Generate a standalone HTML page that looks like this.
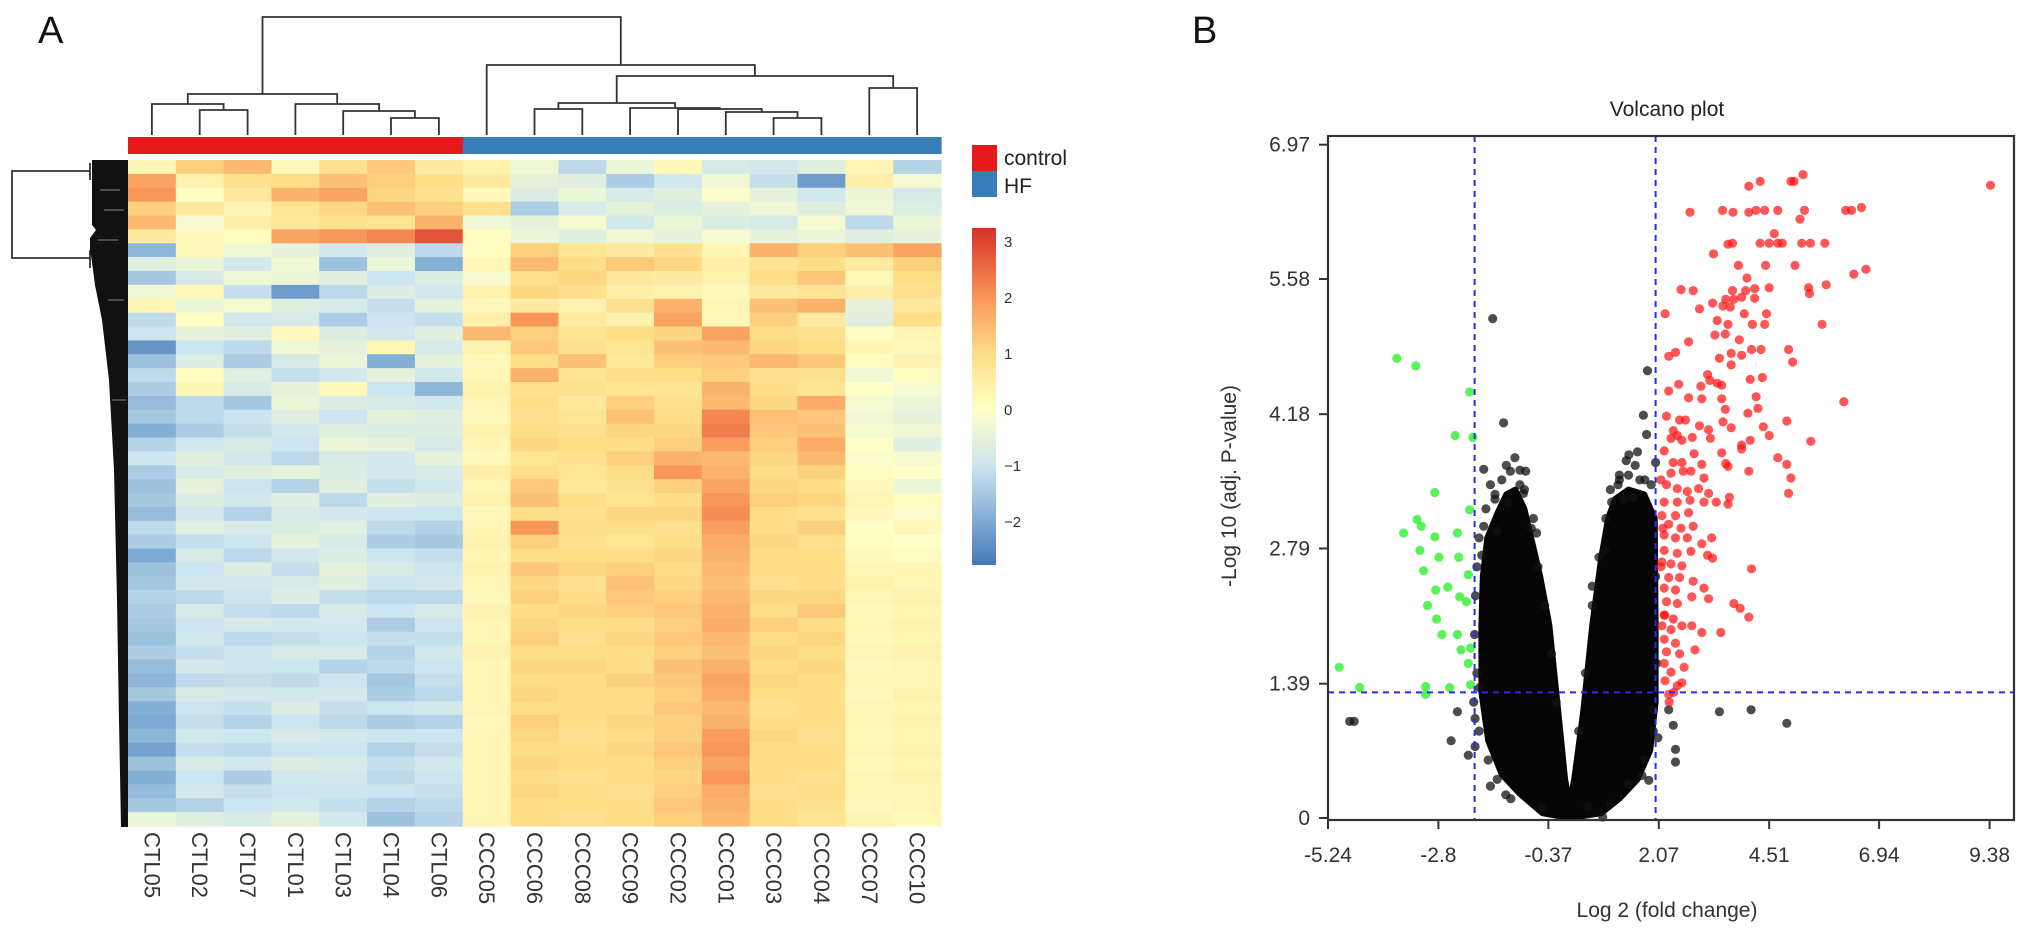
<!DOCTYPE html>
<html><head><meta charset="utf-8"><title>Heatmap and Volcano plot</title>
<style>
html,body{margin:0;padding:0;background:#fff;}
svg{display:block;font-family:"Liberation Sans",Arial,sans-serif;}
</style></head>
<body>
<svg id="fig" xmlns="http://www.w3.org/2000/svg" width="2031" height="937" viewBox="0 0 2031 937">
<rect x="0" y="0" width="2031" height="937" fill="#fff"/>
<text x="38" y="43" font-size="38" fill="#111">A</text>
<text x="1192" y="43" font-size="38" fill="#111">B</text>
<g id="heat"></g>
<g id="volc"></g>
</svg>
<script>
// ================= Heatmap data =================
const sampleNames = ["CTL05","CTL02","CTL07","CTL01","CTL03","CTL04","CTL06","CCC05","CCC06","CCC08","CCC09","CCC02","CCC01","CCC03","CCC04","CCC07","CCC10"];
const sampleGroups = ["control","control","control","control","control","control","control","HF","HF","HF","HF","HF","HF","HF","HF","HF","HF"];
const heatValues = [
[0.3,1.2,1.5,0.2,0.9,1.3,0.6,0.4,-0.3,-1.2,-0.4,0.2,-0.8,-0.9,-0.6,0.3,-1.3],
[1.8,0.4,0.9,1.0,1.4,1.2,1.0,0.6,-0.5,-0.6,-1.4,-0.9,-0.3,-1.1,-2.2,0.5,-0.2],
[2.0,0.1,0.7,1.6,1.8,1.1,0.9,0.2,-0.7,-0.4,-0.8,-0.6,-0.1,-0.5,-0.9,-0.4,-0.8],
[1.2,0.6,0.3,0.8,1.1,1.4,1.2,0.9,-1.4,-0.8,-0.5,-0.7,-0.5,-0.3,-0.6,-0.3,-0.7],
[1.5,-0.2,0.5,0.7,0.9,0.8,1.6,-0.3,-0.5,-0.2,-0.9,-0.4,-0.7,-0.8,-0.2,-1.2,-0.4],
[0.6,0.2,0.1,1.8,2.0,2.2,2.8,0.1,-0.4,-0.6,-0.3,-0.5,-0.2,-0.5,-0.4,-0.6,-0.5],
[-1.8,0.2,-0.3,-0.5,-0.9,-0.6,-1.2,0.1,1.2,0.8,0.6,0.9,0.3,1.6,1.2,1.4,1.8],
[-0.6,-0.4,-0.9,-0.3,-1.6,-0.4,-1.9,0.3,1.5,1.0,1.3,1.1,0.5,0.8,1.0,0.6,1.2],
[-1.5,-0.8,-0.3,-0.4,-0.6,-1.0,-0.7,-0.2,0.9,1.1,0.7,0.6,0.4,1.0,1.3,0.2,1.0],
[-0.3,0.2,-1.1,-2.2,-1.2,-0.7,-0.9,0.4,1.1,0.9,0.5,0.4,0.2,0.7,0.8,0.5,0.9],
[0.3,-0.4,-0.2,-0.6,-0.8,-1.1,-0.5,0.2,0.6,0.4,0.9,1.6,0.3,1.4,1.6,-0.5,0.7],
[-1.2,0.1,-0.9,-0.8,-1.4,-1.0,-1.1,0.5,2.0,0.6,0.4,1.8,0.2,1.2,0.6,-0.6,1.0],
[-1.0,-0.5,-0.6,0.2,-0.7,-0.9,-0.6,1.5,1.2,0.8,1.0,1.1,1.8,1.0,0.9,0.1,0.3],
[-2.3,-1.0,-1.2,-0.3,-0.5,0.3,-0.8,0.4,1.3,0.9,0.8,1.4,1.5,1.1,1.0,0.3,0.2],
[-1.6,-0.7,-1.4,-0.8,-0.4,-1.9,-0.5,0.2,1.0,1.4,0.7,1.2,1.3,1.5,1.3,0.1,0.4],
[-1.2,0.1,-0.6,-1.1,-0.9,-0.5,-0.9,0.3,1.6,0.8,1.0,1.0,1.2,0.9,0.9,-0.3,0.1],
[-1.4,0.3,-0.8,-0.5,0.2,-1.0,-1.8,0.4,0.9,0.9,0.8,0.8,1.6,1.0,0.8,0.0,-0.2],
[-1.7,-1.2,-1.5,-0.4,-0.7,-0.8,-0.9,0.3,1.0,0.7,1.2,0.9,1.5,1.1,1.7,-0.2,-0.4],
[-1.5,-1.2,-1.0,-0.6,-1.0,-0.5,-0.6,0.2,0.9,0.8,1.4,1.0,2.2,1.4,1.3,-0.3,-0.5],
[-1.9,-1.4,-1.1,-0.9,-0.6,-0.7,-0.7,0.4,1.0,0.9,1.1,1.1,2.3,1.3,1.4,-0.2,-0.3],
[-1.3,-0.9,-0.8,-1.0,-0.4,-0.5,-0.8,0.3,1.1,1.0,1.0,1.2,1.9,1.2,1.7,0.0,-0.6],
[-1.0,-0.6,-0.9,-1.2,-0.8,-0.9,-0.5,0.2,0.8,0.9,1.2,1.6,1.5,1.1,1.5,-0.1,-0.2],
[-1.4,-0.8,-0.6,-0.5,-0.7,-0.9,-0.8,0.5,1.0,0.8,1.0,2.0,1.6,1.0,1.2,0.1,0.0],
[-1.6,-0.5,-1.0,-1.3,-0.6,-1.1,-0.9,0.3,1.3,0.7,0.9,1.2,1.8,1.1,1.0,0.2,-0.4],
[-1.5,-0.7,-0.9,-0.6,-1.2,-0.6,-0.7,0.4,1.4,1.0,0.8,1.0,2.0,1.2,1.1,0.3,0.1],
[-1.7,-0.9,-1.3,-0.8,-0.9,-1.0,-1.0,0.2,1.0,0.9,1.1,1.1,2.1,1.0,0.9,0.2,-0.1],
[-1.2,-0.6,-0.8,-0.7,-0.6,-1.2,-1.3,0.3,2.0,1.0,1.0,0.9,1.9,1.0,1.2,0.0,0.2],
[-1.4,-1.1,-1.0,-0.5,-0.8,-1.4,-1.5,0.4,1.2,0.9,0.8,1.0,1.7,1.1,0.9,0.1,0.0],
[-2.0,-0.8,-1.2,-0.9,-0.7,-1.0,-1.1,0.3,1.0,1.0,1.0,1.1,1.6,1.0,1.0,0.2,0.1],
[-1.6,-1.0,-0.7,-1.1,-0.5,-0.8,-1.0,0.4,1.3,1.1,1.2,1.0,1.5,1.0,1.0,0.3,0.3],
[-1.5,-0.9,-0.9,-0.8,-0.6,-1.0,-0.9,0.3,1.1,0.9,1.4,1.1,1.4,0.9,1.0,0.4,0.3],
[-1.3,-1.2,-1.0,-0.7,-1.1,-1.2,-1.2,0.2,1.2,1.0,1.3,1.2,1.5,1.1,1.1,0.3,0.4],
[-1.4,-0.8,-1.1,-1.2,-0.8,-1.0,-0.8,0.4,1.0,1.1,1.2,1.3,1.6,1.0,1.3,0.2,0.3],
[-1.5,-1.0,-0.8,-0.9,-0.9,-1.4,-1.0,0.3,1.1,1.0,1.0,1.2,1.7,1.2,1.0,0.3,0.4],
[-1.6,-0.9,-1.2,-1.1,-1.0,-1.1,-1.1,0.3,1.2,0.9,1.1,1.3,1.5,1.0,1.1,0.2,0.3],
[-1.4,-1.1,-1.0,-0.8,-0.8,-1.3,-0.9,0.4,1.0,1.0,1.0,1.2,1.4,1.1,1.0,0.3,0.4],
[-1.7,-0.9,-1.0,-1.0,-1.3,-1.2,-1.0,0.3,1.1,1.1,1.0,1.4,1.6,1.0,1.1,0.2,0.3],
[-1.8,-1.2,-1.1,-1.2,-1.0,-1.5,-1.1,0.3,1.0,1.0,1.2,1.3,1.8,1.1,1.0,0.3,0.3],
[-1.5,-0.8,-0.9,-0.9,-0.9,-1.4,-1.2,0.3,1.1,1.0,1.0,1.2,1.7,1.0,1.0,0.2,0.4],
[-1.9,-1.0,-1.1,-0.7,-1.1,-1.0,-0.9,0.3,1.0,1.0,1.0,1.3,1.5,0.9,1.0,0.3,0.3],
[-2.0,-1.1,-1.3,-1.0,-1.2,-1.4,-1.3,0.2,1.2,1.0,1.1,1.2,1.6,1.0,1.0,0.3,0.4],
[-1.8,-0.9,-1.0,-0.8,-0.9,-1.0,-1.0,0.3,1.1,0.9,1.0,1.2,1.9,1.1,0.9,0.2,0.3],
[-2.1,-1.1,-1.2,-1.0,-1.0,-1.3,-1.1,0.3,1.0,1.0,1.1,1.3,2.0,1.0,1.0,0.3,0.4],
[-1.6,-0.8,-0.9,-0.7,-0.8,-1.1,-0.9,0.3,1.1,1.0,1.0,1.2,1.8,1.0,1.0,0.2,0.3],
[-1.9,-1.0,-1.4,-0.9,-0.9,-1.2,-1.0,0.3,1.0,0.9,1.0,1.1,2.0,1.0,0.9,0.3,0.4],
[-1.7,-0.9,-1.1,-1.0,-1.0,-1.0,-1.1,0.3,1.1,1.0,0.9,1.2,1.7,0.9,1.0,0.3,0.3],
[-1.5,-1.3,-1.0,-0.9,-1.1,-1.3,-1.2,0.3,1.0,1.0,1.0,1.3,1.6,1.0,0.9,0.2,0.3],
[-0.4,-0.6,-0.8,-0.5,-0.9,-1.6,-1.3,0.3,1.0,0.9,1.0,1.2,1.5,1.0,0.8,0.3,0.2]
];
// column dendrogram merges: [childA, childB, distance]; leaves 0..16, new nodes from 17
const colMerges = [[1,2,25],[0,17,31],[5,6,17],[4,19,24],[3,20,31],[18,21,41],[8,9,26],[13,14,17],[12,24,23],[11,25,26],[10,26,27],[23,27,32],[15,16,47],[28,29,59],[7,30,70],[22,31,118]];
const colorbarTicks = [3,2,1,0,-1,-2];
const legendGroups = ["control","HF"];

// ================= Volcano data =================
const xTicks = [-5.24,-2.8,-0.37,2.07,4.51,6.94,9.38];
const yTicks = [0,1.39,2.79,4.18,5.58,6.97];
const fcCut = [-2,2];
const pCut = [1.3];
const upX = [9.4,4.99,5.06,5.26,4.31,4.06,2.76,3.48,3.71,4.06,4.22,4.41,4.7,5.29,5.19,6.2,6.33,6.55,3.28,3.6,3.7,4.31,4.51,4.7,4.8,5.23,5.42,5.74,4.62,3.83,4.43,5.08,6.38,6.65,4.02,2.56,2.83,3.7,3.99,4.19,4.51,5.38,5.4,5.77,3.55,3.73,3.9,4.19,3.26,2.97,3.49,2.21,3.65,3.96,4.45,3.36,3.6,4.14,4.41,5.68,3.31,3.54,3.85,2.73,4.12,4.33,3.67,3.9,4.94,2.44,2.29,3.41,3.67,5.03,3.15,3.2,3.36,3.46,4.09,4.36,2.29,2.51,3.0,2.73,3.02,3.46,4.22,6.16,3.54,4.04,4.26,2.24,2.53,2.66,4.9,3.49,2.97,3.67,4.38,2.39,3.17,2.34,2.48,2.58,2.81,3.21,4.51,5.43,3.9,4.09,3.9,3.46,2.19,2.85,2.39,2.58,3.02,3.55,3.6,4.7,4.9,2.34,2.61,2.78,3.07,4.06,4.99,2.24,2.48,2.7,2.95,3.17,4.94,2.19,2.48,2.76,3.07,3.34,3.6,3.63,2.14,2.44,2.73,2.29,2.56,2.83,2.19,2.44,2.7,3.24,3.02,2.19,2.48,2.78,3.15,2.14,2.34,2.58,3.26,4.12,2.29,2.53,2.83,2.19,2.44,3.07,2.24,2.48,2.8,3.17,3.73,3.87,4.06,2.19,2.39,2.14,2.34,2.58,2.8,3.02,3.44,2.19,2.44,2.24,2.53,2.87,2.19,2.34,2.63,2.21,2.48,2.29,2.58,2.12,2.16,2.3,2.12,2.2,2.4];
const upY = [6.55,6.59,6.59,6.66,6.59,6.54,6.27,6.29,6.27,6.27,6.29,6.29,6.29,6.29,6.2,6.29,6.29,6.32,5.84,5.94,5.95,5.95,5.95,5.95,5.95,5.95,5.95,5.95,6.05,5.72,5.72,5.72,5.63,5.68,5.59,5.47,5.46,5.46,5.46,5.48,5.49,5.49,5.43,5.52,5.37,5.37,5.39,5.38,5.33,5.27,5.3,5.22,5.29,5.22,5.22,5.15,5.11,5.11,5.11,5.11,5.0,5.01,4.95,4.93,4.85,4.85,4.81,4.79,4.85,4.82,4.78,4.76,4.69,4.72,4.59,4.53,4.5,4.48,4.54,4.56,4.42,4.49,4.47,4.35,4.34,4.34,4.36,4.31,4.23,4.19,4.24,4.16,4.12,4.12,4.11,4.1,4.06,4.04,4.05,4.01,4.02,3.93,3.96,3.91,3.94,3.93,3.96,3.9,3.86,3.91,3.82,3.78,3.8,3.77,3.68,3.68,3.66,3.67,3.64,3.73,3.66,3.57,3.59,3.59,3.52,3.59,3.52,3.45,3.41,3.38,3.41,3.36,3.36,3.27,3.27,3.29,3.27,3.27,3.25,3.32,3.13,3.13,3.16,3.04,3.0,3.02,2.93,2.9,2.9,2.9,2.84,2.77,2.74,2.76,2.72,2.65,2.63,2.61,2.69,2.58,2.49,2.49,2.45,2.38,2.36,2.38,2.24,2.22,2.29,2.27,2.22,2.17,2.08,2.1,2.06,1.99,1.95,1.99,1.99,1.92,1.92,1.85,1.81,1.72,1.7,1.74,1.6,1.51,1.56,1.42,1.37,1.28,1.4,2.6,3.0,1.2,3.5,2.1,1.3];
const downX = [-3.72,-3.3,-2.11,-2.43,-2.04,-2.88,-2.11,-3.27,-3.18,-3.57,-2.88,-2.38,-3.21,-2.79,-2.35,-3.13,-2.14,-2.86,-2.59,-2.33,-2.18,-3.04,-2.84,-2.72,-2.38,-2.3,-2.09,-2.14,-4.99,-4.54,-3.08,-2.55,-2.09,-3.08];
const downY = [4.76,4.68,4.41,3.96,3.94,3.37,3.19,3.09,3.02,2.95,2.91,2.95,2.77,2.7,2.7,2.56,2.52,2.36,2.39,2.29,2.24,2.2,2.06,1.9,1.9,1.74,1.76,1.6,1.56,1.35,1.36,1.35,1.38,1.28];
const nsX = [-1.6,-1.36,1.82,1.73,1.8,1.41,1.6,2.0,1.17,1.76,-1.11,-1.8,-1.65,-0.87,-1.21,-0.92,-1.26,1.03,1.51,-1.8,-1.5,-0.63,0.88,-1.84,-4.76,-4.66,-2.38,-2.52,-2.14,-1.99,-1.65,-1.31,1.85,2.05,2.44,2.44,2.29,2.39,3.41,4.11,4.9,0.83,1.7,-1.99,-1.89,1.95,-0.7,1.3,-1.0,1.2,-1.55,0.6,
 -1.95,-2.0,-1.98,-1.95,-1.9,-2.02,-1.9,-1.7,-1.5,-1.2,-1.75,-1.55,-1.4,-1.3,-1.0,-0.9,-0.75,-0.6,-0.45,-0.3,-0.2,0.3,0.45,0.6,0.75,0.9,1.0,1.2,1.4,1.65,1.9,1.55,1.35,2.0,2.02,1.95,1.75,1.4,1.0,-0.5,0.5];
const nsY = [5.17,4.09,4.63,4.17,3.97,3.76,3.79,3.68,3.45,3.5,3.73,3.61,3.45,3.59,3.59,3.36,3.27,3.27,3.32,3.02,2.97,2.95,2.77,2.72,1.0,1.0,1.1,0.8,0.65,0.74,0.33,0.24,0.39,0.83,0.71,0.58,1.12,0.96,1.1,1.12,0.98,0.01,0.44,1.03,1.35,1.12,3.1,3.3,3.45,3.55,3.3,2.4,
 1.5,1.9,2.3,2.6,2.9,1.2,0.9,0.6,0.4,0.2,3.2,3.35,3.5,3.65,3.6,3.4,3.0,2.6,2.2,1.7,1.2,0.9,1.5,2.2,2.7,3.1,3.4,3.5,3.55,3.5,3.45,3.65,3.7,2.5,1.6,0.9,0.6,0.35,0.15,0.1,0.12];
// envelope of the dense non-significant cloud (log2FC, -log10 p)
const cloudX = [0.1,-0.5,-1.0,-1.4,-1.7,-1.85,-1.85,-1.82,-1.72,-1.5,-1.3,-1.1,-0.9,-0.75,-0.55,-0.35,-0.15,0.0,0.1,0.2,0.4,0.6,0.8,0.95,1.1,1.4,1.75,1.98,2.0,2.0,1.88,1.6,1.2,0.8];
const cloudY = [0.0,0.05,0.25,0.45,0.8,1.3,2.0,2.5,2.9,3.15,3.35,3.4,3.2,2.9,2.5,2.0,1.1,0.4,0.15,0.4,1.1,2.0,2.7,3.1,3.3,3.4,3.35,3.1,2.0,1.2,0.7,0.4,0.2,0.05];

const NS = "http://www.w3.org/2000/svg";
function mk(tag, attrs, parent){ const e=document.createElementNS(NS,tag); for(const k in attrs) e.setAttribute(k,attrs[k]); parent.appendChild(e); return e; }

// ---------- colour map ----------
const cmStops = [[-2.8,[69,117,180]],[-2,[125,170,210]],[-1,[205,229,240]],[0,[255,255,200]],[1,[254,222,135]],[2,[249,150,90]],[3.3,[212,45,38]]];
function cmap(v){
  if(v<=cmStops[0][0]) return "rgb("+cmStops[0][1].join(",")+")";
  for(let i=1;i<cmStops.length;i++){ if(v<=cmStops[i][0]){ const a=cmStops[i-1],b=cmStops[i]; const t=(v-a[0])/(b[0]-a[0]); const c=a[1].map((x,j)=>Math.round(x+(b[1][j]-x)*t)); return "rgb("+c.join(",")+")"; } }
  return "rgb("+cmStops[cmStops.length-1][1].join(",")+")";
}

// ---------- Heatmap ----------
const heat = document.getElementById("heat");
const HX0=128, HX1=941, HY0=160, HY1=826;
const nCol = sampleNames.length, nRow = heatValues.length;
const cw=(HX1-HX0)/nCol, rh=(HY1-HY0)/nRow;
function colX(i){ return HX0 + cw*(i+0.5); }
function rowY(r){ return HY0 + rh*r; }
const groupColor = {control:"#e41a1c", HF:"#377eb8"};

const cellsG = mk("g",{},heat);


heatValues.forEach((row,r)=>{
  row.forEach((v,c)=>{
    const rc = mk("rect",{x:(HX0+cw*c).toFixed(2),y:rowY(r).toFixed(2),width:(cw+0.6).toFixed(2),height:(rh+0.6).toFixed(2),fill:cmap(v)},cellsG);
    
    
  });
});
sampleGroups.forEach((g,c)=>{
  const a = mk("rect",{x:(HX0+cw*c).toFixed(2),y:137,width:(cw+0.6).toFixed(2),height:17,fill:groupColor[g]},heat);
  
  
});
sampleNames.forEach((n,c)=>{
  const t = mk("text",{x:colX(c).toFixed(1),y:832,"font-size":22,fill:"#333","dominant-baseline":"central",transform:"rotate(90 "+colX(c).toFixed(1)+" 832)"},heat);
  t.textContent = n;
  
  
});
const dendBase = 135, dendScale = 1.0;
const nodeX = sampleNames.map((_,i)=>colX(i));
const nodeY = sampleNames.map(()=>dendBase);
const dendG = mk("g",{stroke:"#333","stroke-width":1.8,fill:"none"},heat);


colMerges.forEach(m=>{
  const a=m[0], b=m[1], y=dendBase - m[2]*dendScale;
  const p = mk("path",{d:"M"+nodeX[a].toFixed(1)+","+nodeY[a].toFixed(1)+"V"+y.toFixed(1)+"H"+nodeX[b].toFixed(1)+"V"+nodeY[b].toFixed(1)},dendG);
  
  
  nodeX.push((nodeX[a]+nodeX[b])/2); nodeY.push(y);
});
const rowD = mk("g",{},heat);


mk("path",{d:"M90,171H12V258H90 M90,163V180 M90,250V268",stroke:"#333","stroke-width":1.8,fill:"none"},rowD);
mk("path",{d:"M90,160H128V827H121L119,720L117,600L114,470L109,380L102,320L95,285L92,262L90,250L90,238L96,230L92,225L92,160Z",fill:"#111"},rowD);
mk("path",{d:"M100,190H120 M104,210H124 M98,240H118 M108,300H124 M112,400H126",stroke:"#fff","stroke-width":1,opacity:0.5},rowD);

legendGroups.forEach((g,i)=>{
  const r = mk("rect",{x:972,y:145+i*26,width:25,height:26,fill:groupColor[g]},heat);
  
  
  const t = mk("text",{x:1004,y:165+i*28,"font-size":21,fill:"#222"},heat);
  t.textContent = g;
  
  
});
const defs = mk("defs",{},document.getElementById("fig"));
const grad = mk("linearGradient",{id:"cbg",x1:0,y1:0,x2:0,y2:1},defs);
const CB0=228, CB1=565, cbZero=410, cbUnit=56;
function cbY(v){ return cbZero - v*cbUnit; }
for(let k=0;k<=24;k++){
  const y = CB0 + (CB1-CB0)*k/24; const v=(cbZero-y)/cbUnit;
  mk("stop",{offset:(k/24).toFixed(3),"stop-color":cmap(v)},grad);
}
const cb = mk("rect",{x:972,y:CB0,width:24,height:CB1-CB0,fill:"url(#cbg)"},heat);


colorbarTicks.forEach(v=>{
  const t = mk("text",{x:1004,y:(cbY(v)+5).toFixed(1),"font-size":15,fill:"#333"},heat);
  t.textContent = v<0 ? "\u2212"+Math.abs(v) : String(v);
  
  
});

// ---------- Volcano ----------
const volc = document.getElementById("volc");
const PX0=1328, PX1=2014, PY0=136, PY1=820;
function xs(v){ return PX0 + (v+5.24)*45.25; }
function ys(v){ return 818 - v*96.6; }

const title = mk("text",{x:1667,y:116,"font-size":21,"text-anchor":"middle",fill:"#222"},volc);
title.textContent="Volcano plot";



let d = "";
cloudX.forEach((x,i)=>{ d += (i?"L":"M")+xs(x).toFixed(1)+","+ys(cloudY[i]).toFixed(1); });
const cloud = mk("path",{d:d+"Z",fill:"#050505",stroke:"#050505","stroke-width":6,"stroke-linejoin":"round"},volc);



function drawPts(X,Y,color,op,name){
  const g = mk("g",{fill:color,"fill-opacity":op},volc);
  
  
  X.forEach((x,i)=>{
    const c = mk("circle",{cx:xs(x).toFixed(1),cy:ys(Y[i]).toFixed(1),r:4.6},g);
    
    
  });
}
drawPts(nsX,nsY,"#111",0.75,"nonsignificant-points");
drawPts(downX,downY,"#22ee22",0.75,"downregulated-points");
drawPts(upX,upY,"#ff1010",0.7,"upregulated-points");

fcCut.forEach(v=>{
  const l = mk("line",{x1:xs(v).toFixed(1),x2:xs(v).toFixed(1),y1:PY0,y2:PY1,stroke:"#2a2ae8","stroke-width":2,"stroke-dasharray":"6,5"},volc);
  
  
});
pCut.forEach(v=>{
  const l = mk("line",{x1:PX0,x2:PX1,y1:ys(v).toFixed(1),y2:ys(v).toFixed(1),stroke:"#2a2ae8","stroke-width":2,"stroke-dasharray":"6,5"},volc);
  
  
});
const fr = mk("rect",{x:PX0,y:PY0,width:PX1-PX0,height:PY1-PY0,fill:"none",stroke:"#333","stroke-width":2.2},volc);


yTicks.forEach(v=>{
  const y = ys(v);
  const l = mk("line",{x1:PX0-9,x2:PX0,y1:y.toFixed(1),y2:y.toFixed(1),stroke:"#333","stroke-width":2},volc);
  
  
  const t = mk("text",{x:1310,y:(y+7).toFixed(1),"font-size":21,"text-anchor":"end",fill:"#333"},volc);
  t.textContent = String(v);
  
  
});
xTicks.forEach(v=>{
  const x = xs(v);
  const l = mk("line",{x1:x.toFixed(1),x2:x.toFixed(1),y1:PY1,y2:PY1+9,stroke:"#333","stroke-width":2},volc);
  
  
  const t = mk("text",{x:x.toFixed(1),y:862,"font-size":21,"text-anchor":"middle",fill:"#333"},volc);
  t.textContent = String(v);
  
  
});
const xl = mk("text",{x:1667,y:917,"font-size":21,"text-anchor":"middle",fill:"#333"},volc);
xl.textContent="Log 2 (fold change)";


const yl = mk("text",{x:1236,y:486,"font-size":21,"text-anchor":"middle",fill:"#333",transform:"rotate(-90 1236 486)"},volc);
yl.textContent="-Log 10 (adj. P-value)";


</script>
</body></html>
